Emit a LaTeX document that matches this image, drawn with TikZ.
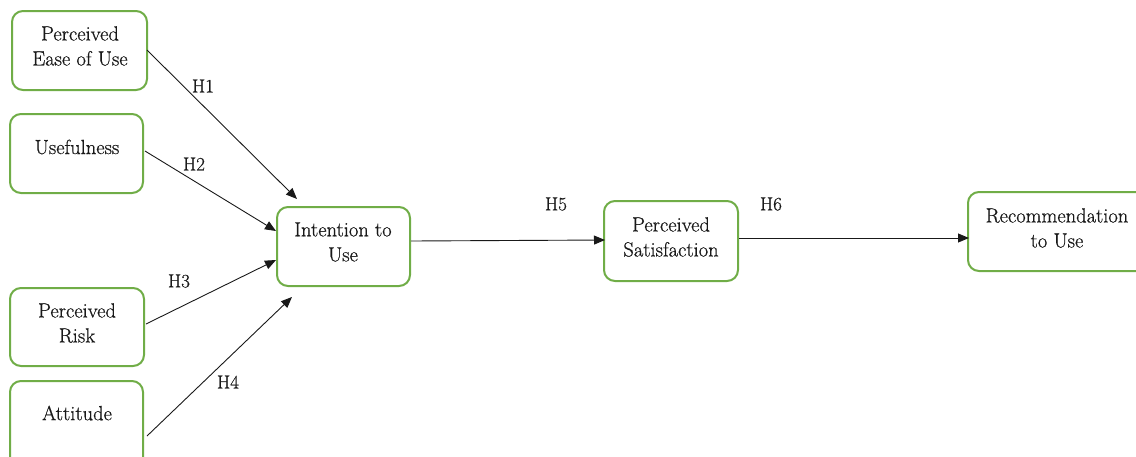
\documentclass[tikz,border=0pt]{standalone}
\usepackage{fontspec}
\newfontfamily\lmr{Latin Modern Roman}[FakeBold=0.6]
\usetikzlibrary{arrows.meta}
\definecolor{boxgreen}{RGB}{112,173,71}
\definecolor{ink}{RGB}{25,25,25}
\tikzset{
  box/.style={draw=boxgreen, line width=2pt, rounded corners=11pt, fill=white},
  lbl/.style={text=ink, font=\lmr\fontsize{20.5}{25}\selectfont, align=center, inner sep=0pt},
  hl/.style={text=ink, font=\lmr\fontsize{19}{22}\selectfont, inner sep=0pt},
  conn/.style={draw=ink, line width=0.9pt, -{Triangle[length=11pt,width=9pt]}}
}
\begin{document}
\begin{tikzpicture}[x=1pt,y=-1pt]
\useasboundingbox (0,0) rectangle (1136,456);
% boxes
\draw[box] (12,11) rectangle (147,90);
\draw[box] (10,114) rectangle (143,193);
\draw[box] (10,288) rectangle (144,366);
\draw[box] (10,381) rectangle (143,470);
\draw[box] (277,207) rectangle (410,286);
\draw[box] (604,201) rectangle (738,281);
\draw[box] (968,192) rectangle (1150,271);
% texts
\node[lbl] (peu) at (80,46) {Perceived\\Ease of Use};
\node[lbl] (use) at (77,147) {Usefulness};
\node[lbl] (risk) at (77,323) {Perceived\\Risk};
\node[lbl] (att) at (77,413) {Attitude};
\node[lbl] (itu) at (343,242) {Intention to\\Use};
\node[lbl] (ps) at (671,237) {Perceived\\Satisfaction};
\node[lbl] (rec) at (1057,228) {Recommendation\\to Use};
% connector end points
\coordinate (s1) at (147,50);  \coordinate (e1) at (297,199);
\coordinate (s2) at (145,151); \coordinate (e2) at (276,231);
\coordinate (s3) at (146,324); \coordinate (e3) at (276,260);
\coordinate (s4) at (147,436); \coordinate (e4) at (292,297);
\coordinate (s5) at (411,241); \coordinate (e5) at (605,240);
\coordinate (s6) at (739,238); \coordinate (e6) at (969,238);
\draw[conn] (s1) -- (e1);
\draw[conn] (s2) -- (e2);
\draw[conn] (s3) -- (e3);
\draw[conn] (s4) -- (e4);
\draw[conn] (s5) -- (e5);
\draw[conn] (s6) -- (e6);
% labels
\node[hl] (h1) at (203,86) {H1};
\node[hl] (h2) at (194,164) {H2};
\node[hl] (h3) at (179,281) {H3};
\node[hl] (h4) at (228,382) {H4};
\node[hl] (h5) at (556,204) {H5};
\node[hl] (h6) at (771,204) {H6};
\end{tikzpicture}
\end{document}
